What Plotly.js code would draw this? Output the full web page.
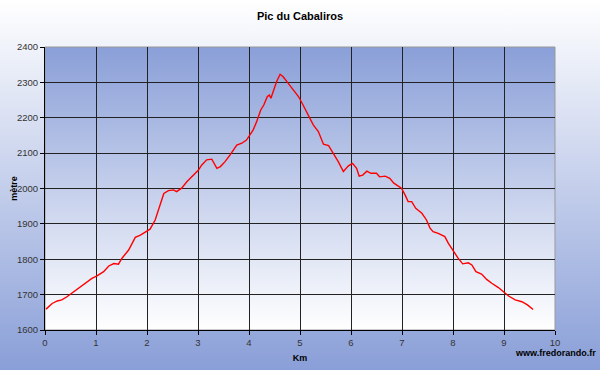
<!DOCTYPE html>
<html>
<head>
<meta charset="utf-8">
<script src="https://cdn.plot.ly/plotly-3.0.1.min.js"></script>
<style>
html,body{margin:0;padding:0;}
#chart{width:600px;height:370px;background:linear-gradient(to bottom,#ffffff 0%,#8a9fd8 100%);}
</style>
</head>
<body>
<div id="chart"></div>
<script>
const distanceKm = [0.02,0.14,0.24,0.33,0.43,0.56,0.69,0.82,0.92,1.02,1.15,1.25,1.35,1.44,1.51,1.64,1.77,1.87,1.97,2.06,2.16,2.25,2.33,2.42,2.52,2.58,2.68,2.78,2.91,3.01,3.07,3.17,3.27,3.37,3.44,3.53,3.63,3.76,3.86,3.95,4.08,4.15,4.23,4.29,4.36,4.40,4.43,4.48,4.54,4.61,4.67,4.77,4.87,4.97,5.06,5.16,5.26,5.36,5.46,5.56,5.65,5.75,5.85,5.95,6.03,6.11,6.16,6.23,6.31,6.39,6.50,6.56,6.67,6.76,6.84,6.93,6.99,7.06,7.12,7.19,7.27,7.39,7.48,7.55,7.61,7.71,7.84,7.91,8.01,8.10,8.19,8.30,8.37,8.45,8.56,8.66,8.76,8.89,8.99,9.09,9.22,9.35,9.46,9.57];
const altitudeM = [1659,1675,1682,1685,1694,1708,1722,1734,1746,1753,1765,1781,1788,1786,1803,1826,1862,1868,1878,1885,1911,1949,1986,1994,1996,1991,2001,2019,2038,2052,2066,2081,2083,2057,2062,2076,2095,2123,2128,2137,2165,2189,2222,2236,2260,2264,2255,2278,2302,2323,2316,2297,2278,2260,2236,2208,2180,2161,2125,2121,2100,2076,2048,2064,2071,2057,2035,2038,2049,2043,2043,2033,2035,2029,2015,2005,2001,1982,1963,1963,1944,1930,1911,1888,1878,1873,1864,1845,1821,1803,1787,1790,1784,1765,1758,1743,1732,1720,1708,1696,1685,1680,1671,1658];
const xTicks = [0,1,2,3,4,5,6,7,8,9,10];
const yTicks = [1600,1700,1800,1900,2000,2100,2200,2300,2400];

const plotBg = 'data:image/svg+xml;utf8,' + encodeURIComponent(
  '<svg xmlns="http://www.w3.org/2000/svg" width="100" height="100" preserveAspectRatio="none">' +
  '<defs><linearGradient id="g" x1="0" y1="0" x2="0" y2="1">' +
  '<stop offset="0" stop-color="#8a9fd8"/><stop offset="1" stop-color="#ffffff"/>' +
  '</linearGradient></defs><rect width="100" height="100" fill="url(#g)"/></svg>');

const tickFont = {family:'Liberation Sans, Arial, sans-serif', size:9.5, color:'#333333'};
const boldFont = {family:'Liberation Sans, Arial, sans-serif', size:9, color:'#000000', weight:'bold'};

const trace = {
  x: distanceKm, y: altitudeM, type:'scatter', mode:'lines',
  line:{color:'#ff0000', width:1.4}, hoverinfo:'skip'
};

const layout = {
  width:600, height:370,
  margin:{l:45, r:45, t:47, b:40},
  paper_bgcolor:'rgba(0,0,0,0)',
  plot_bgcolor:'rgba(0,0,0,0)',
  showlegend:false,
  title:{text:'<b>Pic du Cabaliros</b>', x:0.5, xanchor:'center', y:0.957, yanchor:'middle',
         font:{family:'Liberation Sans, Arial, sans-serif', size:11, color:'#000000'}},
  xaxis:{range:[0,10], tickvals:xTicks, ticktext:xTicks.map(String), ticks:'outside', ticklen:4,
         tickcolor:'#000', showline:true, linecolor:'#000', linewidth:1, zeroline:false,
         showgrid:true, gridcolor:'#222222', gridwidth:1, tickfont:tickFont,
         title:{text:'<b>Km</b>', font:boldFont, standoff:7}},
  yaxis:{range:[1600,2400], tickvals:yTicks, ticktext:yTicks.map(String), ticks:'outside', ticklen:4,
         tickcolor:'#000', showline:true, linecolor:'#000', linewidth:1, zeroline:false,
         showgrid:true, gridcolor:'#222222', gridwidth:1, tickfont:tickFont},
  images:[{source:plotBg, xref:'paper', yref:'paper', x:0, y:1, sizex:1, sizey:1,
           sizing:'stretch', xanchor:'left', yanchor:'top', layer:'below'}],
  shapes:[{type:'rect', xref:'paper', yref:'paper', x0:0, x1:1, y0:0, y1:1,
           line:{color:'#999999', width:1}, layer:'below'}],
  annotations:[
    {text:'<b>mètre</b>', xref:'paper', yref:'paper', x:-0.061, y:0.502, textangle:-90,
     xanchor:'center', yanchor:'middle', showarrow:false, font:boldFont},
    {text:'<b>www.fredorando.fr</b>', xref:'paper', yref:'paper', x:1.085, y:-0.08,
     xanchor:'right', yanchor:'middle', showarrow:false,
     font:{family:'Liberation Sans, Arial, sans-serif', size:9, color:'#000000'}}]
};

Plotly.newPlot('chart', [trace], layout, {staticPlot:true, displayModeBar:false});
</script>
</body>
</html>
